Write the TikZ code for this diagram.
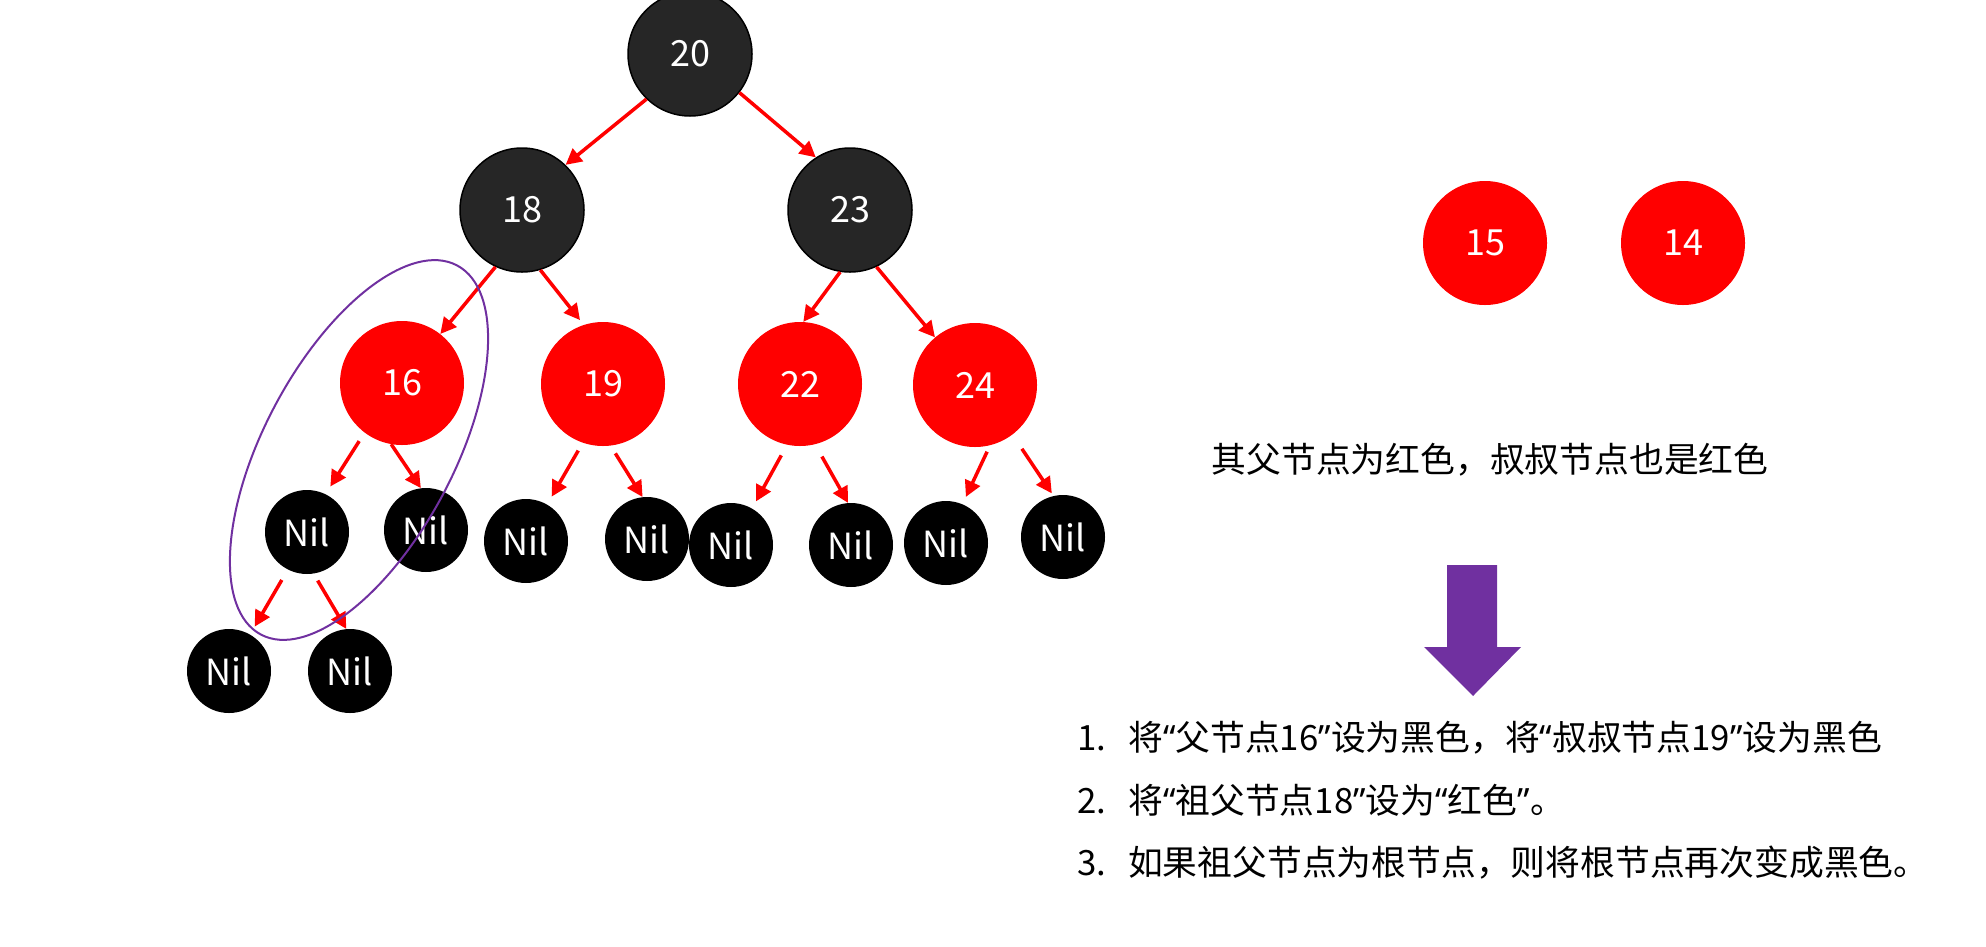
\documentclass[tikz,border=0pt]{standalone}
\usepackage{fontspec}
\newfontfamily\cjk{Noto Sans CJK SC}
\newfontfamily\lat{Noto Sans}
\newcommand\myLq{{\lat “}}
\newcommand\myRq{{\lat ”}}
\usetikzlibrary{arrows.meta}
\definecolor{nodeblack}{HTML}{262626}
\definecolor{nodered}{HTML}{FF0000}
\definecolor{hlpurple}{HTML}{7030A0}
\begin{document}
\begin{tikzpicture}[x=1pt,y=-1pt,
  bignode/.style={circle, minimum size=124pt, inner sep=0pt, text=white, font=\cjk\fontsize{36}{40}\selectfont},
  blk/.style={bignode, fill=nodeblack, draw=black, line width=1.5pt},
  rednode/.style={bignode, fill=nodered},
  nilnode/.style={circle, minimum size=84pt, inner sep=0pt, fill=black, text=white, font=\cjk\fontsize{36}{38}\selectfont},
  rbarrow/.style={draw=red, line width=3.5pt, -{Triangle[length=16pt,width=16pt]}},
  txt/.style={inner sep=0pt, text=black, font=\cjk\fontsize{34.8}{40}\selectfont},
]
\useasboundingbox (0,0) rectangle (1986,946);

% tree nodes
\node[blk] (n20) at (690,54) {20};
\node[blk] (n18) at (522,210) {18};
\node[blk] (n23) at (850,210) {23};
\node[rednode] (n16) at (402,383) {16};
\node[rednode] (n19) at (603,384) {19};
\node[rednode] (n22) at (800,384) {22};
\node[rednode] (n24) at (975,385) {24};

\node[nilnode] (nilA) at (307,532) {Nil};
\node[nilnode] (nilB) at (426,530) {Nil};
\node[nilnode] (nilC) at (229,671) {Nil};
\node[nilnode] (nilD) at (350,671) {Nil};
\node[nilnode] (nilE) at (526,541) {Nil};
\node[nilnode] (nilF) at (647,539) {Nil};
\node[nilnode] (nilG) at (731,545) {Nil};
\node[nilnode] (nilH) at (851,545) {Nil};
\node[nilnode] (nilI) at (946,543) {Nil};
\node[nilnode] (nilJ) at (1063,537) {Nil};

% new red nodes
\node[rednode] (n15) at (1485,243) {15};
\node[rednode] (n14) at (1683,243) {14};

% connectors
\draw[rbarrow] (n20.226) -- (n18.46);
\draw[rbarrow] (n20.322) -- (n23.123);
\draw[rbarrow] (n18.245) -- (n16.52);
\draw[rbarrow, shorten >=6pt] (n18.287) -- (n19.108);
\draw[rbarrow] (n23.261) -- (n22.87);
\draw[rbarrow] (n23.295) -- (n24.130);

\draw[rbarrow, shorten <=10pt, shorten >=9pt] (n16.233) -- (nilA.64);
\draw[rbarrow] (n16.260) -- (nilB.97);
\draw[rbarrow, shorten <=12pt, shorten >=9pt] (nilA.243) -- (nilC.60);
\draw[rbarrow, shorten <=8pt] (nilA.279) -- (nilD.95);
\draw[rbarrow, shorten <=9pt, shorten >=9pt] (n19.251) -- (nilE.60);
\draw[rbarrow, shorten <=9pt] (n19.277) -- (nilF.96);
\draw[rbarrow, shorten <=12pt, shorten >=8pt] (n22.258) -- (nilG.60);
\draw[rbarrow, shorten <=14pt] (n22.284) -- (nilH.94);
\draw[rbarrow, shorten <=7pt, shorten >=8pt] (n24.284) -- (nilI.67);
\draw[rbarrow, shorten <=17pt, shorten >=3pt] (n24.307) -- (nilJ.103);

% highlight ellipse
\draw[hlpurple, line width=2pt, rotate around={62:(359,450)}] (359,450) ellipse [x radius=209, y radius=95];

% texts
\node[txt] (cond) at (1490,460) {其父节点为红色，叔叔节点也是红色};

\fill[hlpurple] (1447,565) -- (1497,565) -- (1497,647) -- (1521,647) -- (1473,696) -- (1424,647) -- (1447,647) -- cycle;

\node[txt, anchor=west] (l1) at (1077,738) {\makebox[51pt][l]{1.}将\myLq 父节点16\myRq 设为黑色，将\myLq 叔叔节点19\myRq 设为黑色};
\node[txt, anchor=west] (l2) at (1077,800) {\makebox[51pt][l]{2.}将\myLq 祖父节点18\myRq 设为\myLq 红色\myRq 。};
\node[txt, anchor=west] (l3) at (1077,863) {\makebox[51pt][l]{3.}如果祖父节点为根节点，则将根节点再次变成黑色。};
\end{tikzpicture}
\end{document}
